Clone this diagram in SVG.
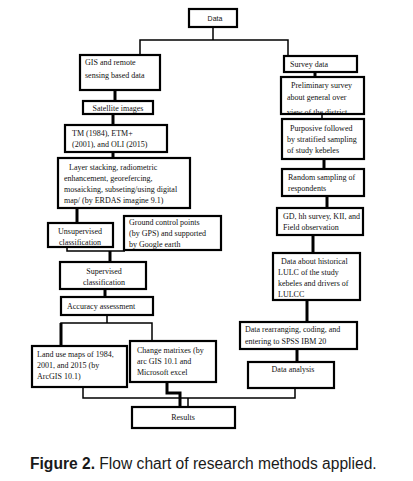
<svg xmlns="http://www.w3.org/2000/svg" width="413" height="481" viewBox="0 0 413 481">
<style>
.box{fill:#fff;stroke:#000;stroke-width:2.2}
.t{font-family:"Liberation Serif","Times New Roman",serif;font-size:8px;fill:#111}
.c{text-anchor:middle}
.s{font-family:"Liberation Sans",Arial,sans-serif;font-size:7px;fill:#111}
.ln{fill:none;stroke:#000;stroke-width:1.5}
.th{fill:none;stroke:#000;stroke-width:3}
.cap{font-family:"Liberation Sans",Arial,sans-serif;font-size:15.6px;fill:#1a1a1a}
</style>
<defs>
<clipPath id="clipPrelim"><rect x="282" y="78" width="81" height="35"/></clipPath>
</defs>
<rect width="413" height="481" fill="#fff"/>
<g id="connectors">
<path class="ln" d="M213,27 V40 M140,55 V40 H288 V56"/>
<path class="th" d="M115,90 V101"/>
<path class="th" d="M113,114 V125"/>
<path class="th" d="M113,152 V158"/>
<path class="th" d="M77,208 V223"/>
<path class="ln" d="M67,247 V251 H125"/>
<path class="th" d="M110,251 V262"/>
<path class="th" d="M105,289 V297"/>
<path class="ln" d="M107,315 V323 M61,346 V323 H152 V341"/>
<path class="th" d="M61,323 V346"/>
<path class="ln" d="M83,387 V398 H295 V388"/>
<path class="th" d="M167,382 V393 H180 V407"/>
<path class="ln" d="M188,398 V407"/>
<path class="th" d="M315,72 V77"/>
<path class="ln" d="M322,114 V119"/>
<path class="th" d="M324,159 V169"/>
<path class="th" d="M327,196 V208"/>
<path class="th" d="M313,235 V253"/>
<path class="th" d="M307,300 V322"/>
<path class="th" d="M297,349 V362"/>
</g>
<g id="data"><rect class="box" x="189" y="9" width="48" height="18"/><text class="s" x="215" y="21" text-anchor="middle">Data</text></g>
<g id="gis"><rect class="box" x="80" y="55" width="80" height="35"/><text class="t" x="85" y="65">GIS and remote</text><text class="t" x="85" y="78">sensing based data</text></g>
<g id="satellite"><rect class="box" x="83" y="101" width="70" height="13"/><text class="t c" x="118" y="111">Satellite images</text></g>
<g id="tm"><rect class="box" x="65" y="125" width="102" height="27"/><text class="t" x="72" y="136">TM (1984), ETM+</text><text class="t" x="72" y="147">(2001), and OLI (2015)</text></g>
<g id="layer"><rect class="box" x="58" y="158" width="132" height="50"/><text class="t" x="69" y="170">Layer stacking, radiometric</text><text class="t" x="64" y="181">enhancement, georefercing,</text><text class="t" x="64" y="192">mosaicking, subseting/using digital</text><text class="t" x="64" y="203">map/ (by ERDAS imagine 9.1)</text></g>
<g id="unsupervised"><rect class="box" x="48" y="223" width="65" height="24"/><text class="t c" x="80" y="234">Unsupervised</text><text class="t c" x="80" y="245">classification</text></g>
<g id="ground"><rect class="box" x="124" y="216" width="97" height="34"/><text class="t" x="129" y="225">Ground control points</text><text class="t" x="129" y="236">(by GPS) and supported</text><text class="t" x="129" y="247">by Google earth</text></g>
<g id="supervised"><rect class="box" x="60" y="262" width="86" height="27"/><text class="t c" x="104" y="274">Supervised</text><text class="t c" x="104" y="285">classification</text></g>
<g id="accuracy"><rect class="box" x="61" y="297" width="92" height="18"/><text class="t" x="67" y="309">Accuracy assessment</text></g>
<g id="landuse"><rect class="box" x="32" y="346" width="95" height="41"/><text class="t" x="37" y="357">Land use maps of 1984,</text><text class="t" x="37" y="368">2001, and 2015 (by</text><text class="t" x="37" y="379">ArcGIS 10.1)</text></g>
<g id="change"><rect class="box" x="130" y="341" width="86" height="41"/><text class="t" x="137" y="353">Change matrixes (by</text><text class="t" x="137" y="364">arc GIS 10.1 and</text><text class="t" x="137" y="375">Microsoft excel</text></g>
<g id="results"><rect class="box" x="132" y="407" width="103" height="21"/><text class="t c" x="183" y="420">Results</text></g>
<g id="survey"><rect class="box" x="284" y="56" width="73" height="16"/><text class="t" x="290" y="67">Survey data</text></g>
<g id="preliminary"><rect class="box" x="281" y="77" width="83" height="37"/><g clip-path="url(#clipPrelim)"><text class="t" x="291" y="88">Preliminary survey</text><text class="t" x="287" y="100">about general over</text><text class="t" x="287" y="115">view of the   district</text></g></g>
<g id="purposive"><rect class="box" x="282" y="119" width="82" height="40"/><text class="t" x="290" y="131">Purposive followed</text><text class="t" x="287" y="142">by stratified sampling</text><text class="t" x="287" y="153">of study kebeles</text></g>
<g id="random"><rect class="box" x="282" y="169" width="82" height="27"/><text class="t" x="288" y="180">Random sampling of</text><text class="t" x="288" y="191">respondents</text></g>
<g id="gd"><rect class="box" x="277" y="208" width="86" height="27"/><text class="t" x="283" y="219">GD, hh survey, KII, and</text><text class="t" x="283" y="230">Field observation</text></g>
<g id="historical"><rect class="box" x="273" y="253" width="87" height="47"/><text class="t" x="281" y="264">Data about historical</text><text class="t" x="278" y="275">LULC of the study</text><text class="t" x="278" y="286">kebeles and drivers of</text><text class="t" x="278" y="297">LULCC</text></g>
<g id="rearranging"><rect class="box" x="240" y="322" width="117" height="27"/><text class="t" x="245" y="332">Data rearranging, coding, and</text><text class="t" x="245" y="344">entering to SPSS IBM 20</text></g>
<g id="analysis"><rect class="box" x="248" y="362" width="86" height="26"/><text class="t c" x="293" y="372">Data analysis</text></g>
<text class="cap" x="30" y="469"><tspan font-weight="bold">Figure 2.</tspan> Flow chart of research methods applied.</text>
</svg>
